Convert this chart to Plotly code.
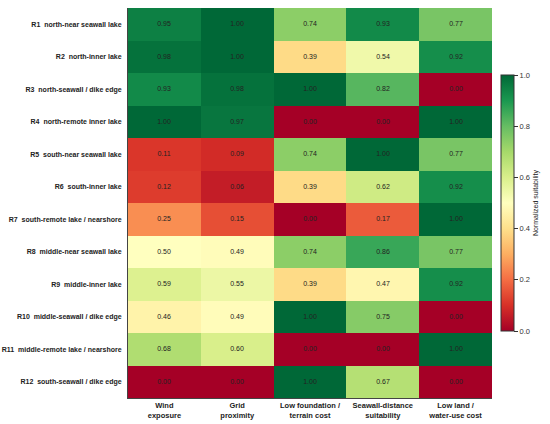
import plotly.graph_objects as go

# criteria (columns) and sites (rows)
criteria = ["Wind<br>exposure", "Grid<br>proximity", "Low foundation /<br>terrain cost",
            "Seawall-distance<br>suitability", "Low land /<br>water-use cost"]
sites = ["R1\u00a0 north-near seawall lake", "R2\u00a0 north-inner lake",
         "R3\u00a0 north-seawall / dike edge", "R4\u00a0 north-remote inner lake",
         "R5\u00a0 south-near seawall lake", "R6\u00a0 south-inner lake",
         "R7\u00a0 south-remote lake / nearshore", "R8\u00a0 middle-near seawall lake",
         "R9\u00a0 middle-inner lake", "R10\u00a0 middle-seawall / dike edge",
         "R11\u00a0 middle-remote lake / nearshore", "R12\u00a0 south-seawall / dike edge"]

wind = [0.95, 0.98, 0.93, 1.00, 0.11, 0.12, 0.25, 0.50, 0.59, 0.46, 0.68, 0.00]
grid = [1.00, 1.00, 0.98, 0.97, 0.09, 0.06, 0.15, 0.49, 0.55, 0.49, 0.60, 0.00]
foundation = [0.74, 0.39, 1.00, 0.00, 0.74, 0.39, 0.00, 0.74, 0.39, 1.00, 0.00, 1.00]
seawall = [0.93, 0.54, 0.82, 0.00, 1.00, 0.62, 0.17, 0.86, 0.47, 0.75, 0.00, 0.67]
landuse = [0.77, 0.92, 0.00, 1.00, 0.77, 0.92, 1.00, 0.77, 0.92, 0.00, 1.00, 0.00]

cols = [wind, grid, foundation, seawall, landuse]
z = [[c[i] for c in cols] for i in range(len(sites))]

fig = go.Figure(go.Heatmap(
    z=z, x=criteria, y=sites,
    colorscale="RdYlGn", zmin=0, zmax=1,
    texttemplate="%{z:.2f}", textfont=dict(size=7, color="#222"),
    colorbar=dict(
        x=1.025, xanchor="left", y=0.5, yanchor="middle", xpad=0, ypad=0,
        thickness=13, len=256, lenmode="pixels",
        outlinecolor="#333", outlinewidth=1,
        ticks="outside", ticklen=4, tickcolor="#333",
        tickvals=[0, 0.2, 0.4, 0.6, 0.8, 1.0], tickformat=".1f",
        tickfont=dict(size=7.5, color="#333"),
        title=dict(text="Normalized suitability", side="right",
                   font=dict(size=7, color="#222")),
    ),
))

fig.update_layout(
    width=550, height=424,
    margin=dict(l=128, r=58, t=8, b=26, autoexpand=False),
    paper_bgcolor="white", plot_bgcolor="white",
    font=dict(family="Liberation Sans, Arial, sans-serif", color="#222"),
    xaxis=dict(showline=True, linecolor="#444", linewidth=1, ticks="", automargin=False,
               tickfont=dict(size=7.5, weight="bold"), side="bottom"),
    yaxis=dict(autorange="reversed", showline=True, linecolor="#444", linewidth=1,
               ticks="", automargin=False,
               tickfont=dict(size=7, weight="bold"), ticklabelstandoff=4),
)

fig.write_html("out.html", config={"displayModeBar": False},
               post_script="document.body.style.margin='0';")
